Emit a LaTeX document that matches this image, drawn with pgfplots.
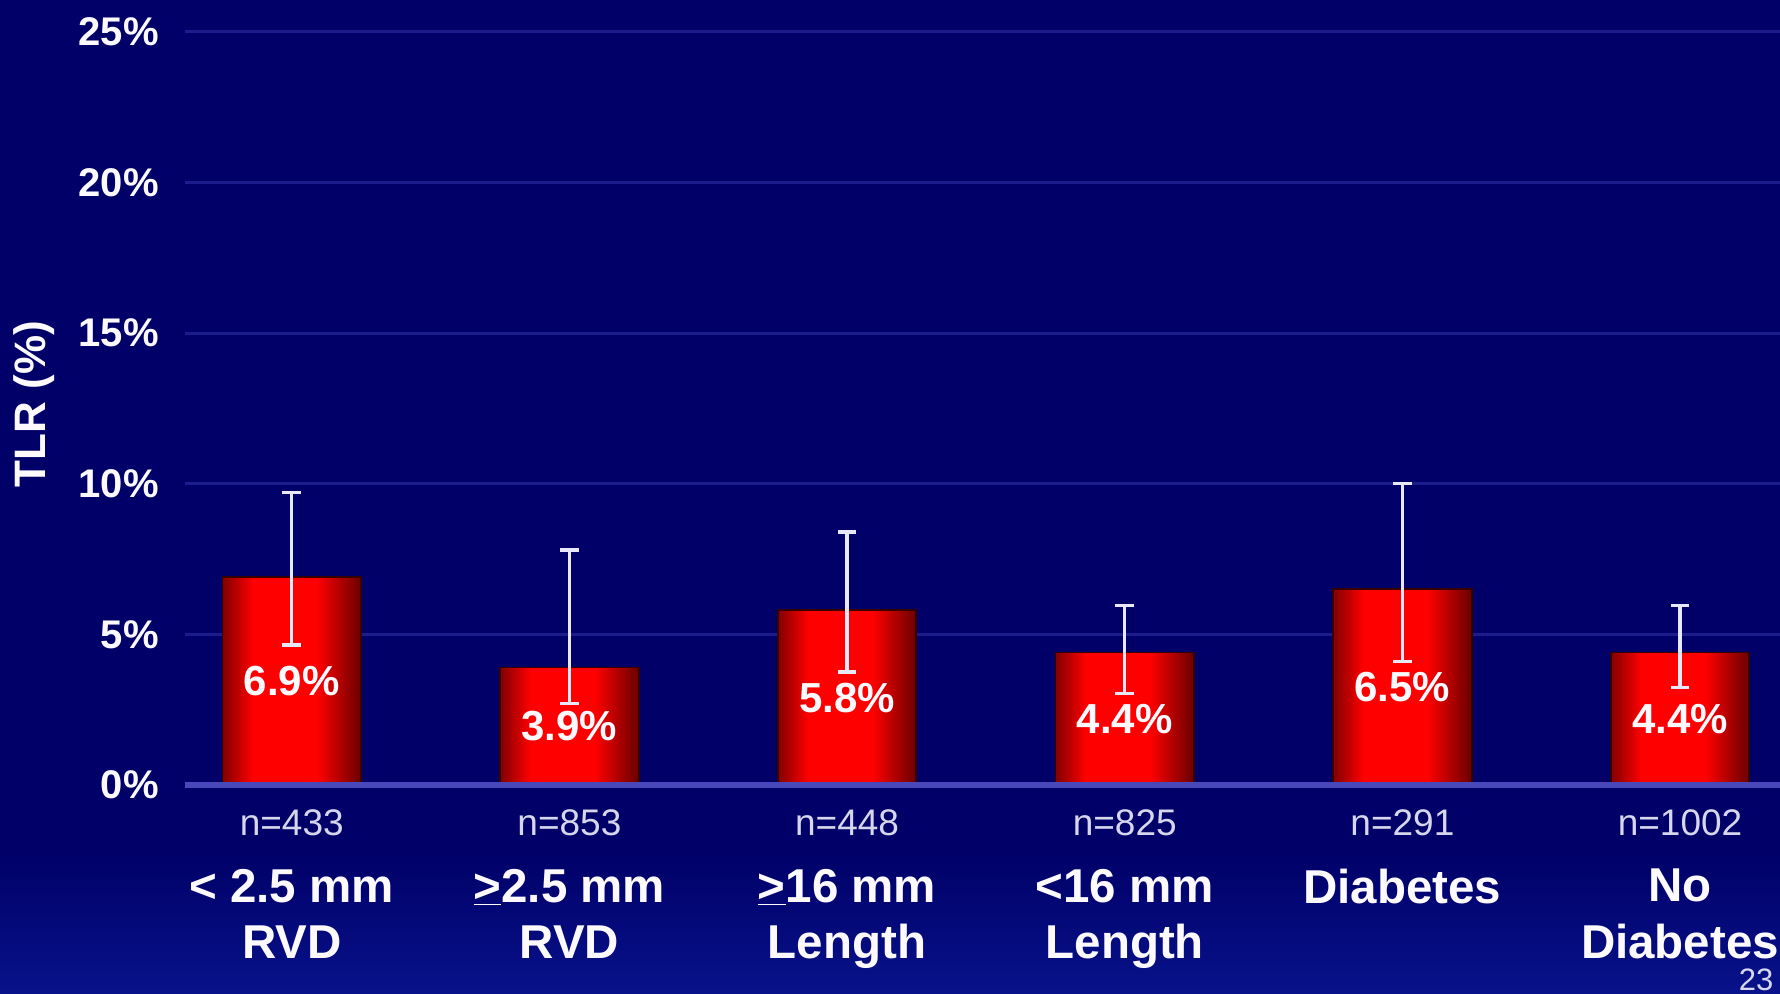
\documentclass[border=0pt]{standalone}
\usepackage{pgfplots}
\pgfplotsset{compat=1.18}
\usepackage{pgfplotstable}
\usepackage{fontspec}
\setmainfont{Liberation Sans}

\definecolor{slidebg}{RGB}{0,0,104}
\definecolor{slidelow}{RGB}{8,18,138}
\definecolor{gridblue}{RGB}{28,28,140}
\definecolor{zeroblue}{RGB}{72,72,186}
\definecolor{barred}{RGB}{255,0,0}
\definecolor{bardark}{RGB}{130,0,0}
\definecolor{bardarker}{RGB}{105,0,0}
\definecolor{baredge}{RGB}{55,0,0}
\definecolor{errwhite}{RGB}{232,232,250}
\definecolor{textwhite}{RGB}{252,250,255}
\definecolor{nlabel}{RGB}{214,214,236}

% dark edges, broad bright red core
\pgfdeclarehorizontalshading{barshade}{100bp}{%
  color(0bp)=(bardark); color(25bp)=(bardark); color(36bp)=(barred);
  color(59bp)=(barred); color(75bp)=(bardarker); color(100bp)=(bardarker)}

% TLR by subgroup: rate, lower and upper bound of the interval, group size
\pgfplotstableread{
x  y    lo    hi    n
0  6.9  4.65  9.70  n=433
1  3.9  2.70  7.80  n=853
2  5.8  3.75  8.40  n=448
3  4.4  3.05  5.95  n=825
4  6.5  4.10  10.0  n=291
5  4.4  3.25  5.95  n=1002
}\tlrdata

\begin{document}
\begin{tikzpicture}
\path[use as bounding box] (0,0) rectangle (890pt,496.5pt);
\fill[slidebg] (0,0) rectangle (890pt,496.5pt);
\clip (0,0) rectangle (890pt,496.5pt);
\shade[bottom color=slidelow, top color=slidebg] (0,0) rectangle (890pt,70pt);

\begin{axis}[
  at={(92.5pt,104pt)}, anchor=south west,
  scale only axis, width=797.5pt, height=392.5pt,
  xmin=-0.3845, xmax=5.36, ymin=0, ymax=26.06,
  clip=false,
  axis line style={draw=none},
  tick style={draw=none}, major tick length=0pt,
  /pgf/number format/assume math mode=true,
  ytick={0,5,10,15,20,25},
  yticklabels={0\%,5\%,10\%,15\%,20\%,25\%},
  yticklabel style={font=\bfseries\fontsize{20}{24}\selectfont, text=textwhite,
    anchor=east, inner sep=0pt, xshift=-13pt},
  ymajorgrids, grid style={gridblue, line width=1.5pt},
  xtick={0,1,2,3,4,5},
  xticklabels={{< 2.5 mm\\RVD},{\underline{>}2.5 mm\\RVD},{\underline{>}16 mm\\Length},
    {<16 mm\\Length},{Diabetes},{No\\Diabetes}},
  xticklabel style={font=\bfseries\fontsize{23.75}{28.25}\selectfont, text=textwhite,
    align=center, anchor=north, inner sep=0pt, yshift=-41.75pt},
  ylabel={TLR (\%)},
  ylabel style={font=\bfseries\fontsize{22}{26}\selectfont, text=textwhite,
    at={(axis description cs:-0.0947,0.4854)}, anchor=center},
]
% one bar per plot so that each gets its own shading
\pgfplotsinvokeforeach{0,1,2,3,4,5}{
  \addplot[ybar, bar width=69.25pt, draw=baredge, line width=0.9pt,
    shade, shading=barshade, forget plot, restrict x to domain=#1:#1]
    table[x=x, y=y] {\tlrdata};
}
% interval bars
\addplot[draw=none, mark=none, forget plot,
  error bars/.cd, y dir=both, y explicit, error mark=|,
  error bar style={draw=errwhite, line width=1.6pt},
  error mark options={draw=errwhite, line width=1.6pt, mark size=4.7pt}]
  table[x=x, y=y, y error plus expr=\thisrow{hi}-\thisrow{y},
        y error minus expr=\thisrow{y}-\thisrow{lo}] {\tlrdata};
% rate printed at mid-height of each bar
\addplot[draw=none, mark=none, forget plot, point meta=explicit,
  nodes near coords={\pgfmathprintnumber[fixed,fixed zerofill,precision=1]{\pgfplotspointmeta}\%},
  every node near coord/.append style={anchor=center, inner sep=0pt,
    font=\bfseries\fontsize{21}{25}\selectfont, text=textwhite}]
  table[x=x, y expr=\thisrow{y}/2, meta=y] {\tlrdata};
% group sizes under the axis
\addplot[draw=none, mark=none, forget plot, point meta=explicit symbolic,
  nodes near coords,
  every node near coord/.append style={anchor=base, inner sep=0pt, yshift=-25.15pt,
    font=\fontsize{18.5}{22}\selectfont, text=nlabel}]
  table[x=x, y expr=0, meta=n] {\tlrdata};
\draw[zeroblue, line width=3pt] (rel axis cs:0,0) -- (rel axis cs:1,0);
\end{axis}

\node[anchor=north, inner sep=0pt, font=\fontsize{15.5}{18}\selectfont, text=nlabel]
  at (878pt,12.5pt) {23};
\end{tikzpicture}
\end{document}
